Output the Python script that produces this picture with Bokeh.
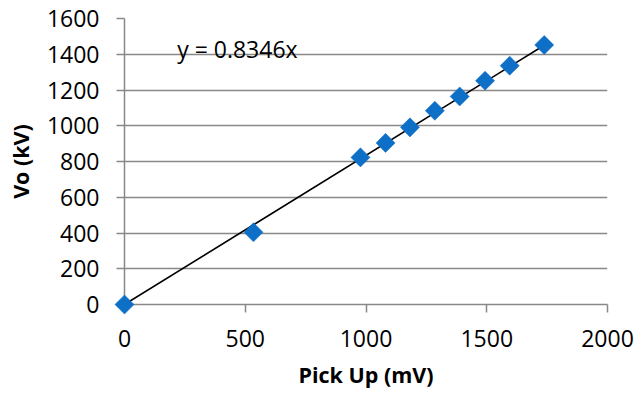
import math
from bokeh.plotting import figure
from bokeh.models import Range1d, FixedTicker, Label
from bokeh.embed import file_html
from bokeh.resources import INLINE

# Data
pickup_mv = [0, 534, 977, 1081, 1182, 1285, 1388, 1493, 1595, 1738]
vo_kv = [0, 404, 823, 904, 991, 1084, 1164, 1252, 1336, 1452]
slope = 0.8346
x_ticks = [0, 500, 1000, 1500, 2000]
y_ticks = [0, 200, 400, 600, 800, 1000, 1200, 1400, 1600]
equation_text = "y = 0.8346x"

GRAY = "#898989"
BLUE = "#0E6FC7"
FONT = "Open Sans"

p = figure(width=635, height=393, output_backend="svg", toolbar_location=None,
           x_range=Range1d(0, 2000), y_range=Range1d(0, 1600),
           min_border_left=124, min_border_right=28, min_border_top=18, min_border_bottom=89)
p.outline_line_color = None
p.background_fill_color = "white"
p.border_fill_color = "white"

# grid
p.xgrid.grid_line_color = None
p.ygrid.ticker = FixedTicker(ticks=y_ticks)
p.ygrid.grid_line_color = GRAY
p.ygrid.grid_line_width = 1.5

for ax in (p.xaxis[0], p.yaxis[0]):
    ax.axis_line_color = GRAY
    ax.axis_line_width = 1.5
    ax.major_tick_line_color = GRAY
    ax.major_tick_line_width = 1.5
    ax.major_tick_in = 0
    ax.major_tick_out = 8
    ax.minor_tick_line_color = None
    ax.major_label_text_font = FONT
    ax.major_label_text_font_size = "23px"
    ax.major_label_text_color = "black"
    ax.axis_label_text_font = FONT
    ax.axis_label_text_font_size = "21.5px"
    ax.axis_label_text_font_style = "bold"
    ax.axis_label_text_color = "black"

p.xaxis.ticker = FixedTicker(ticks=x_ticks)
p.yaxis.ticker = FixedTicker(ticks=y_ticks)
p.xaxis.major_label_standoff = 17
p.yaxis.major_label_standoff = 17
p.xaxis.axis_label = "Pick Up (mV)"
p.yaxis.axis_label = "Vo (kV)"
p.xaxis.axis_label_standoff = 10
p.yaxis.axis_label_standoff = 9

# trendline through origin
x_end = max(pickup_mv)
p.line([0, x_end], [0, slope * x_end], line_color="black", line_width=1.6)

# markers (diamonds)
r = p.scatter(pickup_mv, vo_kv, marker="square", angle=math.pi / 4, size=13.5,
              fill_color=BLUE, line_color=BLUE, line_width=0.5)
r.level = "overlay"

p.add_layout(Label(x=218, y=1427, text=equation_text, text_font=FONT,
                   text_font_size="23px", text_color="black",
                   text_baseline="alphabetic", text_align="left"))

open("out.html", "w").write(file_html(p, INLINE))
